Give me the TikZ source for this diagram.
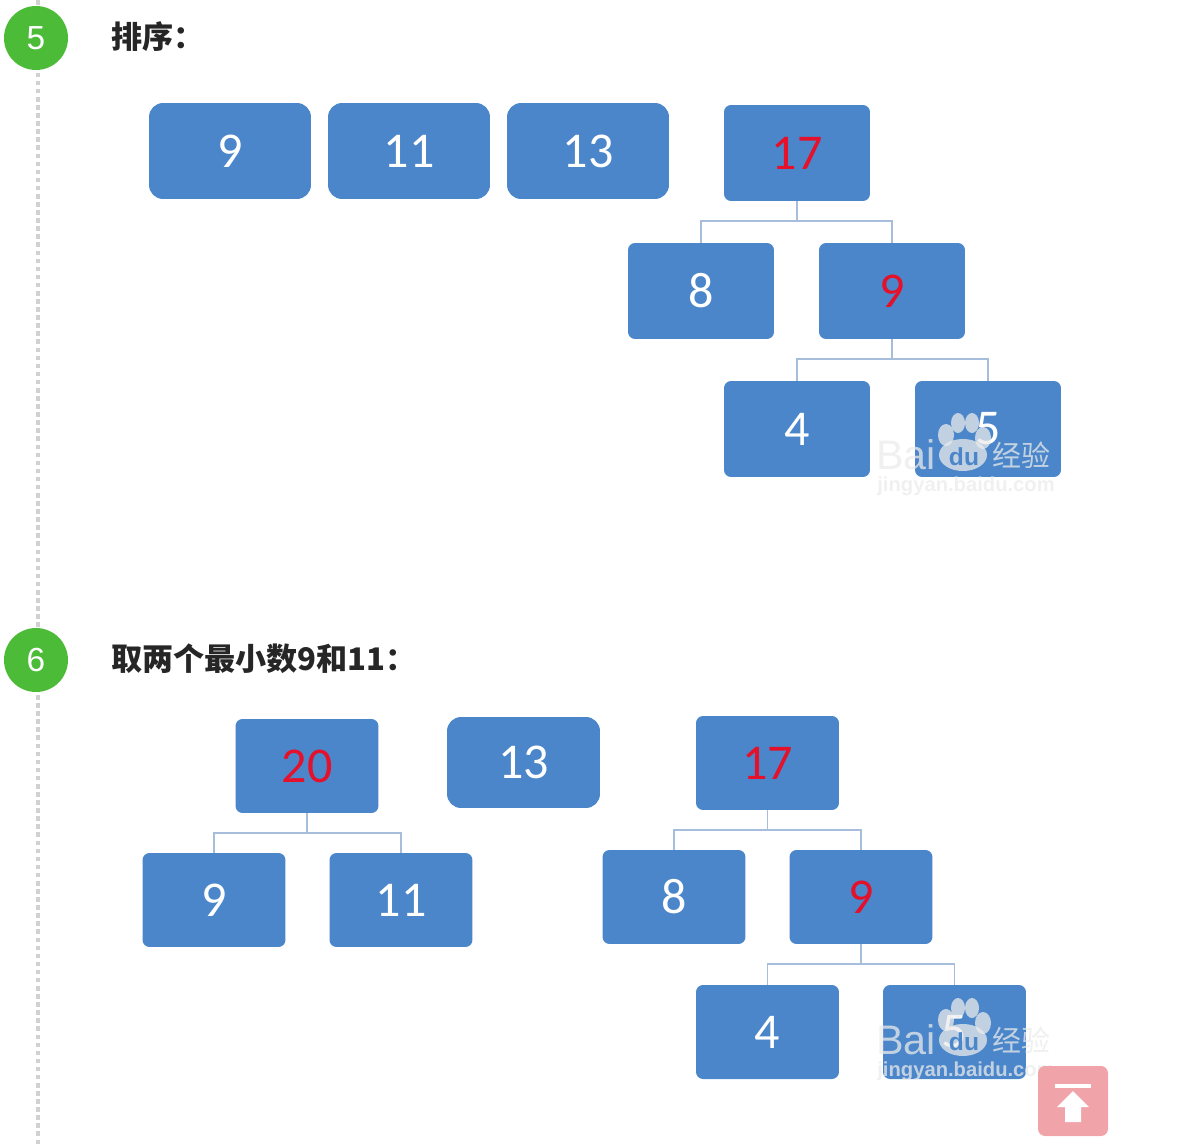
\documentclass[tikz,border=0pt]{standalone}
\usepackage{fontspec}
\setmainfont{Carlito}
\newfontfamily\cjk{Noto Sans CJK SC}
\newfontfamily\lib{Liberation Sans}
\definecolor{boxblue}{HTML}{4A86C9}
\definecolor{linkblue}{HTML}{A6BEDB}
\definecolor{numred}{HTML}{E5102A}
\definecolor{stepgreen}{HTML}{4CBB38}
\definecolor{toppink}{HTML}{F0A4A9}
\tikzset{
	box/.style={rectangle,rounded corners=8pt,fill=boxblue,text=white,inner sep=0pt,font=\fontsize{28.5}{28.5}\selectfont},
	widebox/.style={box,minimum width=3.24cm,minimum height=1.92cm},
	midbox/.style={box,minimum width=2.92cm,minimum height=1.92cm,rounded corners=4pt},
	smallbox/.style={box,minimum width=2.86cm,minimum height=1.88cm,rounded corners=4pt},
	hot/.style={text=numred},
	link/.style={draw=linkblue,line width=1.1pt},
	stepnum/.style={circle,fill=stepgreen,text=white,minimum size=1.28cm,inner sep=0pt,font=\lib\fontsize{19}{19}\selectfont},
	title/.style={anchor=west,inner sep=0pt,text=black!85,font=\cjk\bfseries\fontsize{17.7}{17.7}\selectfont},
	wmark/.style={inner sep=0pt,text=black!8,opacity=.75},
	wpaw/.style={fill=black!8,opacity=.75},
}
\begin{document}
\begin{tikzpicture}
	[x=0.02cm,y=-0.02cm]
	\useasboundingbox (0,0) rectangle (1194,1146);
	\coordinate (railtop) at (38,0);
	\coordinate (railend) at (38,1146);
	\draw[black!18,line width=2pt,dash pattern=on 2.6pt off 2pt] (railtop) -- (railend);
	% step 5
	\node[stepnum] (s5) at (36,38) {5};
	\node[title] (t5) at (111,37) {排序：};
	\node[widebox] (a9) at (230,151) {9};
	\node[widebox] (a11) at (409,151) {11};
	\node[widebox] (a13) at (588,151) {13};
	\node[midbox,hot] (a17) at (797,153) {17};
	\node[midbox] (a8) at (701,291) {8};
	\node[midbox,hot] (b9) at (892,291) {9};
	\node[midbox] (a4) at (797,429) {4};
	\node[midbox] (a5) at (988,429) {5};
	% step 6
	\node[stepnum] (s6) at (36,660) {6};
	\node[title] (t6) at (111,659) {取两个最小数9和11：};
	\node[smallbox,hot] (c20) at (307,766) {20};
	\node[box,minimum width=3.06cm,minimum height=1.82cm] (c13) at (523.5,762.5) {13};
	\node[smallbox,hot] (c17) at (767.5,763) {17};
	\node[smallbox] (c9) at (214,900) {9};
	\node[smallbox] (c11) at (401,900) {11};
	\node[smallbox] (c8) at (674,897) {8};
	\node[smallbox,hot] (d9) at (861,897) {9};
	\node[smallbox] (c4) at (767.5,1032) {4};
	\node[smallbox] (c5) at (954.5,1032) {5};
	\foreach \from/\to in {a17/a8,a17/b9,b9/a4,b9/a5,c20/c9,c20/c11,c17/c8,c17/d9,d9/c4,d9/c5}
	\draw[link] (\from.south) -- ++(0,20) -| (\to.north);
	% watermarks
	\foreach \wx/\wy in {0/0,0/585}
	{
		\begin{scope}[shift={(\wx,\wy)}]
			\node[wmark,font=\lib\fontsize{23.5}{23.5}\selectfont,anchor=west] (bai\wy) at (876,455) {Bai};
			\node[wmark,font=\cjk\fontsize{16.5}{16.5}\selectfont,anchor=west] (jing\wy) at (992,455) {经验};
			\node[wmark,font=\lib\bfseries\fontsize{11.5}{11.5}\selectfont,anchor=west] (site\wy) at (877,486) {jingyan.baidu.com};
			\fill[wpaw] (963,455) ellipse (24 and 16);
			\fill[wpaw] (946,435) ellipse (8 and 11);
			\fill[wpaw] (958,423) ellipse (7 and 10);
			\fill[wpaw] (972,423) ellipse (7 and 10);
			\fill[wpaw] (983,438) ellipse (8 and 11);
			\node[inner sep=0pt,text=boxblue,font=\lib\bfseries\fontsize{14}{14}\selectfont] (du\wy) at (964,457) {du};
		\end{scope}
	}
	% back to top
	\node[rectangle,rounded corners=4pt,fill=toppink,minimum size=1.4cm,inner sep=0pt] (top) at (1073,1101) {};
	\fill[white] (1055,1084) rectangle (1091,1088);
	\fill[white] (1073,1091) -- (1089,1107) -- (1081,1107) -- (1081,1122) -- (1065,1122) -- (1065,1107) -- (1057,1107) -- cycle;
\end{tikzpicture}
\end{document}
